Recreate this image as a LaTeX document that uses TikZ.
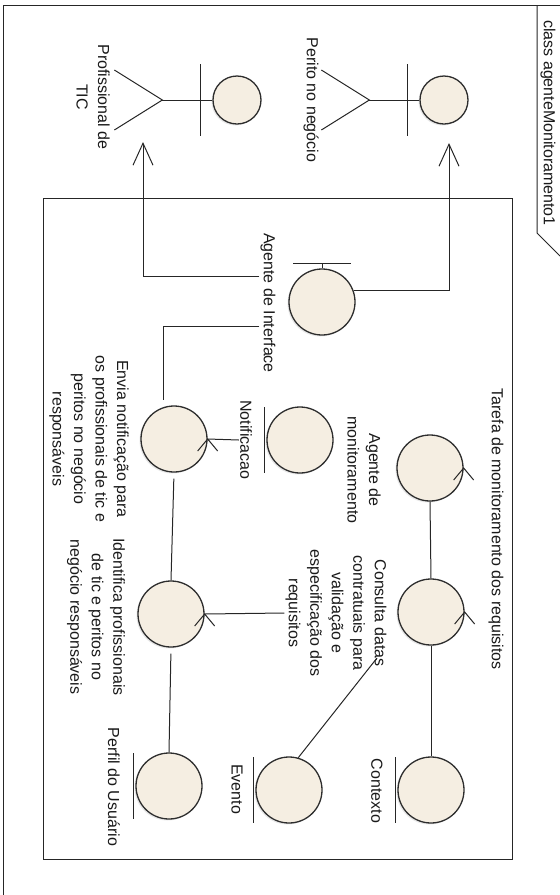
\documentclass[tikz,border=0pt]{standalone}
\usepackage{fontspec}
\setmainfont{Liberation Sans}
\usetikzlibrary{arrows.meta,shadows}
\definecolor{robfill}{RGB}{245,238,226}
\definecolor{robline}{RGB}{45,45,45}

\begin{document}
\begin{tikzpicture}[
  x=1pt, y=-1pt,
  font=\fontsize{16}{21.5}\selectfont,
  every node/.style={align=center},
  %% --- styles ---
  robust/.style={circle, draw=robline, fill=robfill, line width=1.3pt,
    minimum size=66pt, inner sep=0pt,
    drop shadow={opacity=0.18, shadow xshift=-1.5pt, shadow yshift=-1.5pt}},
  head/.style={robust, minimum size=48pt},
  lbl/.style={rotate=-90, inner sep=1pt, text=black!90},
  link/.style={line width=1pt, draw=black!85},
  arrow/.style={link, -{Straight Barb[length=22pt, width=20pt]}}
]
  \useasboundingbox (0,0) rectangle (560,895);

  %% --- frame ---
  \draw[link] (3.5,5) rectangle (575,905);
  \draw[link] (537,5) -- (537,233) -- (560,256);
  \node[lbl] (title) at (548,123) {class agenteMonitoramento1};
  \draw[link] (43,198) rectangle (512,859);

  %% --- actors ---
  \node[head] (perito) at (444,100) {};
  \node[head] (tic) at (237,100) {};
  \foreach \a in {perito, tic} {
    \draw[link] (\a.west) -- ++(-50,0) coordinate (hip-\a);
    \draw[link] ([shift={(-12,-36)}]\a.west) -- ++(0,72);
    \draw[link] ([shift={(-48,-30)}]hip-\a) -- (hip-\a) -- ([shift={(-48,30)}]hip-\a);
  }
  \node[lbl] (peritoLbl) at (311,100) {Perito no negócio};
  \node[lbl] (ticLbl) at (93,97) {Profissional de\\TIC};

  %% --- robustness elements ---
  \node[robust] (intf) at (322,302) {};
  \node[robust] (notif) at (300,440) {};
  \node[robust] (envia) at (174,439) {};
  \node[robust] (ident) at (171,614) {};
  \node[robust] (perfil) at (169,786) {};
  \node[robust] (agmon) at (430,468) {};
  \node[robust] (consulta) at (431,612) {};
  \node[robust] (contexto) at (431,790) {};
  \node[robust] (evento) at (289,790) {};

  % boundary
  \draw[link] (intf.north) -- ++(0,-5) coordinate (intfBar);
  \draw[link] ([xshift=-29pt]intfBar) -- ([xshift=29pt]intfBar);
  % entities
  \foreach \e in {notif, perfil, contexto, evento}
    \draw[link] ([shift={(-2,-33)}]\e.west) -- ++(0,66);
  % controls
  \foreach \c in {envia, ident, agmon, consulta}
    \draw[link] ([shift={(-10,12)}]\c.east) -- (\c.east) -- ([shift={(10,12)}]\c.east);

  %% --- labels ---
  \node[lbl] (intfLbl) at (268,303) {Agente de Interface};
  \node[lbl] (notifLbl) at (246,440) {Notificacao};
  \node[lbl] (enviaLbl) at (89,439) {Envia notificação para\\os profissionais de tic e\\peritos no negócio\\responsáveis};
  \node[lbl] (identLbl) at (96,617) {Identifica profissionais\\de tic e peritos no\\negócio responsáveis};
  \node[lbl] (perfilLbl) at (114,787) {Perfil do Usuário};
  \node[lbl] (agmonLbl) at (364,470) {Agente de\\monitoramento};
  \node[lbl] (consultaLbl) at (336,613) {Consulta datas\\contratuais para\\validação e\\especificação dos\\requisitos};
  \node[lbl] (tarefaLbl) at (496,529) {Tarefa de monitoramento dos requisitos};
  \node[lbl] (contextoLbl) at (377,791) {Contexto};
  \node[lbl] (eventoLbl) at (237,789) {Evento};

  %% --- connectors ---
  \coordinate (peritoIn) at (449,143);
  \coordinate (ticIn) at (143,142);
  \coordinate (consultaEnd) at (377,658);
  \draw[arrow] (intf.20) -| (peritoIn);
  \draw[arrow] ([yshift=27pt]intfLbl.south) -| (ticIn);
  \draw[link] ([yshift=-23pt]intfLbl.south) -| ([shift={(-11,-5)}]envia.north);
  \draw[link] (notifLbl.south) -- (envia.east);
  \draw[link, shorten <=6pt] (envia.south) -- (ident.north);
  \draw[link, shorten <=6pt] (ident.south) -- (perfil.north);
  \draw[link] (consultaLbl.south) -- (ident.east);
  \draw[link] (agmon.south) -- (consulta.north);
  \draw[link] (consulta.south) -- (contexto.north);
  \draw[link] (evento.74) -- (consultaEnd);
\end{tikzpicture}
\end{document}
